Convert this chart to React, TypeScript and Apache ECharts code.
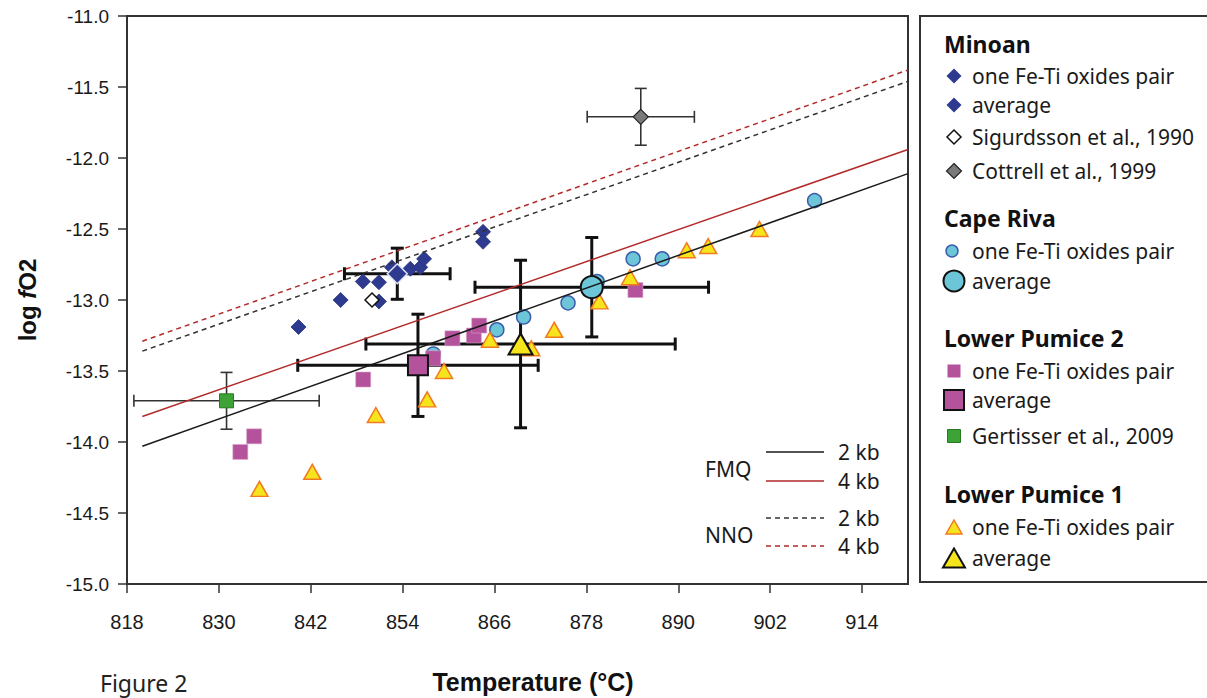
import React, { useEffect, useRef } from "react";
import * as echarts from "echarts";

// ---- Data: temperature (°C) and log fO2 ----
const temperatureTicks = [818, 830, 842, 854, 866, 878, 890, 902, 914];

const minoanPairs = [
  [840.4, -13.19], [845.9, -13.0], [848.8, -12.87], [850.9, -12.875], [850.9, -13.01],
  [852.6, -12.77], [855.0, -12.78], [856.3, -12.77], [856.8, -12.71], [864.5, -12.52], [864.5, -12.59],
];
const minoanAverage = [853.3, -12.815];
const minoanAverageError = [6.9, 0.18];
const sigurdsson1990 = [850.0, -13.0];
const cottrell1999 = [885.1, -11.71];
const cottrell1999Error = [7.0, 0.2];

const capeRivaPairs = [
  [907.8, -12.3], [887.9, -12.71], [884.1, -12.71], [879.4, -12.87],
  [875.6, -13.02], [869.8, -13.12], [866.3, -13.21], [858.0, -13.38],
];
const capeRivaAverage = [878.7, -12.91];
const capeRivaAverageError = [15.25, 0.35];

const lowerPumice2Pairs = [
  [832.8, -14.07], [834.6, -13.96], [848.85, -13.56], [858.0, -13.41],
  [860.5, -13.27], [863.3, -13.25], [864.0, -13.18], [884.4, -12.93],
];
const lowerPumice2Average = [856.0, -13.46];
const lowerPumice2AverageError = [15.7, 0.36];
const gertisser2009 = [831.0, -13.71];
const gertisser2009Error = [12.1, 0.2];

const lowerPumice1Pairs = [
  [835.3, -14.33], [842.2, -14.21], [850.5, -13.81], [857.2, -13.7], [859.4, -13.5],
  [865.4, -13.28], [870.8, -13.34], [873.8, -13.21], [879.7, -13.01], [883.7, -12.84],
  [891.1, -12.65], [893.9, -12.62], [900.6, -12.5],
];
const lowerPumice1Average = [869.4, -13.31];
const lowerPumice1AverageError = [20.2, 0.59];

// Oxygen buffer curves
const fmq2kb = [[820, -14.03], [920, -12.11]];
const fmq4kb = [[820, -13.82], [920, -11.94]];
const nno2kb = [[820, -13.36], [920, -11.46]];
const nno4kb = [[820, -13.29], [920, -11.38]];

// ---- Styling ----
const AXIS_FONT = "'Liberation Sans', Arial, sans-serif";
const LEGEND_FONT = "'Noto Sans', 'Open Sans', sans-serif";
const C = {
  navy: "#2e3a8f",
  cyan: "#6cc6d7",
  cyanEdge: "#3b5bab",
  magenta: "#b5529c",
  green: "#3ea336",
  greenEdge: "#26791f",
  yellow: "#f6e51c",
  orange: "#f27b22",
  gray: "#7a7a7a",
  red: "#b22a2a",
  ink: "#1a1a1a",
};

type MarkerKind =
  | "minoanPair" | "minoanAvg" | "sigurdsson" | "cottrell"
  | "crPair" | "crAvg" | "lp2Pair" | "lp2Avg" | "gertisser" | "lp1Pair" | "lp1Avg";

function legendMarker(kind: MarkerKind, cx: number, cy: number): any {
  const diamond = (w: number, h: number, style: any) => ({
    type: "polygon",
    shape: { points: [[cx, cy - h / 2], [cx + w / 2, cy], [cx, cy + h / 2], [cx - w / 2, cy]] },
    style,
  });
  const square = (s: number, style: any) => ({
    type: "rect",
    shape: { x: cx - s / 2, y: cy - s / 2, width: s, height: s },
    style,
  });
  const triangle = (w: number, h: number, style: any) => ({
    type: "polygon",
    shape: { points: [[cx, cy - h / 2], [cx + w / 2, cy + h / 2], [cx - w / 2, cy + h / 2]] },
    style,
  });
  switch (kind) {
    case "minoanPair":
    case "minoanAvg":
      return diamond(15, 15, { fill: C.navy });
    case "sigurdsson":
      return diamond(14, 14, { fill: "#fff", stroke: "#111", lineWidth: 1.5 });
    case "cottrell":
      return diamond(15, 15, { fill: C.gray, stroke: "#222", lineWidth: 1.2 });
    case "crPair":
      return { type: "circle", shape: { cx, cy, r: 6 }, style: { fill: C.cyan, stroke: C.cyanEdge, lineWidth: 1.5 } };
    case "crAvg":
      return { type: "circle", shape: { cx, cy, r: 10.5 }, style: { fill: C.cyan, stroke: "#111", lineWidth: 2 } };
    case "lp2Pair":
      return square(13, { fill: C.magenta });
    case "lp2Avg":
      return square(20, { fill: C.magenta, stroke: "#111", lineWidth: 2 });
    case "gertisser":
      return square(13, { fill: C.green, stroke: C.greenEdge, lineWidth: 1 });
    case "lp1Pair":
      return triangle(16, 14, { fill: C.yellow, stroke: C.orange, lineWidth: 1.5 });
    case "lp1Avg":
      return triangle(22, 19, { fill: C.yellow, stroke: "#111", lineWidth: 2 });
  }
}

const legendRows: { y: number; heading?: string; label?: string; marker?: MarkerKind; mx?: number }[] = [
  { y: 44, heading: "Minoan" },
  { y: 76, label: "one Fe-Ti oxides pair", marker: "minoanPair" },
  { y: 105, label: "average", marker: "minoanAvg" },
  { y: 137, label: "Sigurdsson et al., 1990", marker: "sigurdsson" },
  { y: 171, label: "Cottrell et al., 1999", marker: "cottrell" },
  { y: 218, heading: "Cape Riva" },
  { y: 251, label: "one Fe-Ti oxides pair", marker: "crPair", mx: 952 },
  { y: 281, label: "average", marker: "crAvg" },
  { y: 338, heading: "Lower Pumice 2" },
  { y: 371, label: "one Fe-Ti oxides pair", marker: "lp2Pair" },
  { y: 400, label: "average", marker: "lp2Avg" },
  { y: 436, label: "Gertisser et al., 2009", marker: "gertisser" },
  { y: 494, heading: "Lower Pumice 1" },
  { y: 527, label: "one Fe-Ti oxides pair", marker: "lp1Pair" },
  { y: 558, label: "average", marker: "lp1Avg" },
];

function buildGraphics(): any[] {
  const g: any[] = [];
  // Legend panel
  g.push({
    type: "rect",
    shape: { x: 920, y: 16, width: 300, height: 566 },
    style: { fill: "#fff", stroke: "#333", lineWidth: 2 },
    z: 10,
  });
  legendRows.forEach((r) => {
    if (r.heading) {
      g.push({
        type: "text", x: 944, y: r.y, z: 11,
        style: { text: r.heading, font: `bold 23px ${LEGEND_FONT}`, fill: "#111", verticalAlign: "middle" },
      });
    } else {
      g.push({ ...legendMarker(r.marker!, r.mx ?? 954, r.y), z: 11 });
      g.push({
        type: "text", x: 972, y: r.y, z: 11,
        style: { text: r.label, font: `21px ${LEGEND_FONT}`, fill: C.ink, verticalAlign: "middle" },
      });
    }
  });

  // Buffer key inside the plot
  const key = [
    { y: 452, color: C.ink, dash: null, label: "2 kb" },
    { y: 481, color: C.red, dash: null, label: "4 kb" },
    { y: 518, color: "#333", dash: [5, 4], label: "2 kb" },
    { y: 546, color: C.red, dash: [5, 4], label: "4 kb" },
  ];
  key.forEach((k) => {
    g.push({
      type: "line", z: 5,
      shape: { x1: 766, y1: k.y, x2: 824, y2: k.y },
      style: { stroke: k.color, lineWidth: 1.5, lineDash: k.dash || undefined },
    });
    g.push({
      type: "text", x: 838, y: k.y, z: 5,
      style: { text: k.label, font: `21px ${LEGEND_FONT}`, fill: C.ink, verticalAlign: "middle" },
    });
  });
  g.push({ type: "text", x: 705, y: 469, z: 5, style: { text: "FMQ", font: `21px ${LEGEND_FONT}`, fill: C.ink, verticalAlign: "middle" } });
  g.push({ type: "text", x: 705, y: 535, z: 5, style: { text: "NNO", font: `21px ${LEGEND_FONT}`, fill: C.ink, verticalAlign: "middle" } });

  // Axis titles
  g.push({
    type: "text", x: 533, y: 682,
    style: { text: "Temperature (°C)", font: `bold 25px ${AXIS_FONT}`, fill: "#111", align: "center", verticalAlign: "middle" },
  });
  g.push({
    type: "text", x: 27, y: 300, rotation: Math.PI / 2,
    style: {
      text: "{a|log }{b|f}{a|O2}",
      align: "center",
      verticalAlign: "middle",
      rich: {
        a: { font: `bold 24px ${AXIS_FONT}`, fill: "#111" },
        b: { font: `italic bold 24px ${AXIS_FONT}`, fill: "#111" },
      },
    },
  });
  g.push({
    type: "text", x: 100, y: 683,
    style: {
      text: "Figure 2", fontFamily: LEGEND_FONT, fontSize: 23, lineHeight: 24,
      fill: "#222", verticalAlign: "middle",
    },
  });
  return g;
}

function errorBarSeries(data: number[][], width: number, color: string, cap: number): any {
  return {
    type: "custom",
    silent: true,
    clip: false,
    encode: { x: 0, y: 1 },
    data,
    renderItem: (_params: any, api: any) => {
      const x = api.value(0), y = api.value(1), dx = api.value(2), dy = api.value(3);
      const l = api.coord([x - dx, y]);
      const r = api.coord([x + dx, y]);
      const t = api.coord([x, y + dy]);
      const b = api.coord([x, y - dy]);
      const style = { stroke: color, lineWidth: width, fill: null };
      const seg = (x1: number, y1: number, x2: number, y2: number) => ({ type: "line", shape: { x1, y1, x2, y2 }, style });
      const h = cap / 2;
      return {
        type: "group",
        children: [
          seg(l[0], l[1], r[0], r[1]),
          seg(l[0], l[1] - h, l[0], l[1] + h),
          seg(r[0], r[1] - h, r[0], r[1] + h),
          seg(t[0], t[1], b[0], b[1]),
          seg(t[0] - h, t[1], t[0] + h, t[1]),
          seg(b[0] - h, b[1], b[0] + h, b[1]),
        ],
      };
    },
  };
}

const bufferLine = (data: number[][], color: string, dashed: boolean) => ({
  type: "line",
  data,
  symbol: "none",
  silent: true,
  lineStyle: { color, width: 1.5, type: dashed ? [5, 4] : "solid" },
});

export default function App() {
  const ref = useRef<HTMLDivElement>(null);

  useEffect(() => {
    document.body.style.margin = "0";
    const chart = echarts.init(ref.current!, null, { renderer: "svg" });
    const option: any = {
      animation: false,
      backgroundColor: "#fff",
      grid: {
        left: 127, top: 16, width: 781, height: 568,
        show: true, borderColor: "#333", borderWidth: 2, backgroundColor: "transparent",
      },
      xAxis: {
        type: "value",
        min: 818,
        max: 920,
        axisLine: { show: true, onZero: false, lineStyle: { color: "#333", width: 2 } },
        axisTick: { show: true, customValues: temperatureTicks, length: 9, lineStyle: { color: "#333", width: 1.5 } },
        axisLabel: {
          customValues: temperatureTicks, margin: 28,
          fontFamily: AXIS_FONT, fontSize: 20, color: C.ink,
        },
        splitLine: { show: false },
      },
      yAxis: {
        type: "value",
        min: -15,
        max: -11,
        interval: 0.5,
        axisLine: { show: true, onZero: false, lineStyle: { color: "#333", width: 2 } },
        axisTick: { show: true, length: 9, lineStyle: { color: "#333", width: 1.5 } },
        axisLabel: {
          formatter: (v: number) => v.toFixed(1), margin: 18,
          fontFamily: AXIS_FONT, fontSize: 19, color: C.ink,
        },
        splitLine: { show: false },
      },
      series: [
        bufferLine(fmq2kb, C.ink, false),
        bufferLine(fmq4kb, C.red, false),
        bufferLine(nno2kb, "#333", true),
        bufferLine(nno4kb, C.red, true),
        {
          type: "scatter", data: minoanPairs, symbol: "diamond", symbolSize: 15,
          itemStyle: { color: C.navy, borderColor: "#27327a", borderWidth: 0.8, opacity: 1 },
        },
        {
          type: "scatter", data: [sigurdsson1990], symbol: "diamond", symbolSize: 14,
          itemStyle: { color: "#fff", borderColor: "#111", borderWidth: 1.5, opacity: 1 },
        },
        {
          type: "scatter", data: capeRivaPairs, symbol: "circle", symbolSize: 14,
          itemStyle: { color: C.cyan, borderColor: C.cyanEdge, borderWidth: 1.5, opacity: 1 },
        },
        {
          type: "scatter", data: lowerPumice2Pairs, symbol: "rect", symbolSize: 15,
          itemStyle: { color: C.magenta, borderColor: "#d9a6cc", borderWidth: 0.6, opacity: 1 },
        },
        {
          type: "scatter", data: lowerPumice1Pairs, symbol: "triangle", symbolSize: [17, 15],
          itemStyle: { color: C.yellow, borderColor: C.orange, borderWidth: 1.5, opacity: 1 },
        },
        errorBarSeries(
          [
            [...cottrell1999, ...cottrell1999Error],
            [...gertisser2009, ...gertisser2009Error],
          ],
          1.6, "#333", 12,
        ),
        errorBarSeries(
          [
            [...minoanAverage, ...minoanAverageError],
            [...capeRivaAverage, ...capeRivaAverageError],
            [...lowerPumice2Average, ...lowerPumice2AverageError],
            [...lowerPumice1Average, ...lowerPumice1AverageError],
          ],
          3, "#111", 13,
        ),
        {
          type: "scatter", data: [cottrell1999], symbol: "diamond", symbolSize: 15,
          itemStyle: { color: C.gray, borderColor: "#222", borderWidth: 1.2, opacity: 1 },
        },
        {
          type: "scatter", data: [gertisser2009], symbol: "rect", symbolSize: 14,
          itemStyle: { color: C.green, borderColor: C.greenEdge, borderWidth: 1, opacity: 1 },
        },
        {
          type: "scatter", data: [minoanAverage], symbol: "diamond", symbolSize: 20,
          itemStyle: { color: C.navy, borderColor: "#dfe6f5", borderWidth: 1.5, opacity: 1 },
        },
        {
          type: "scatter", data: [capeRivaAverage], symbol: "circle", symbolSize: 22,
          itemStyle: { color: C.cyan, borderColor: "#111", borderWidth: 2, opacity: 1 },
        },
        {
          type: "scatter", data: [lowerPumice2Average], symbol: "rect", symbolSize: 20,
          itemStyle: { color: C.magenta, borderColor: "#111", borderWidth: 2, opacity: 1 },
        },
        {
          type: "scatter", data: [lowerPumice1Average], symbol: "triangle", symbolSize: [24, 21],
          itemStyle: { color: C.yellow, borderColor: "#111", borderWidth: 2, opacity: 1 },
        },
      ],
      graphic: buildGraphics(),
    };
    chart.setOption(option);
    return () => chart.dispose();
  }, []);

  return <div ref={ref} style={{ width: 1207, height: 698 }} />;
}
